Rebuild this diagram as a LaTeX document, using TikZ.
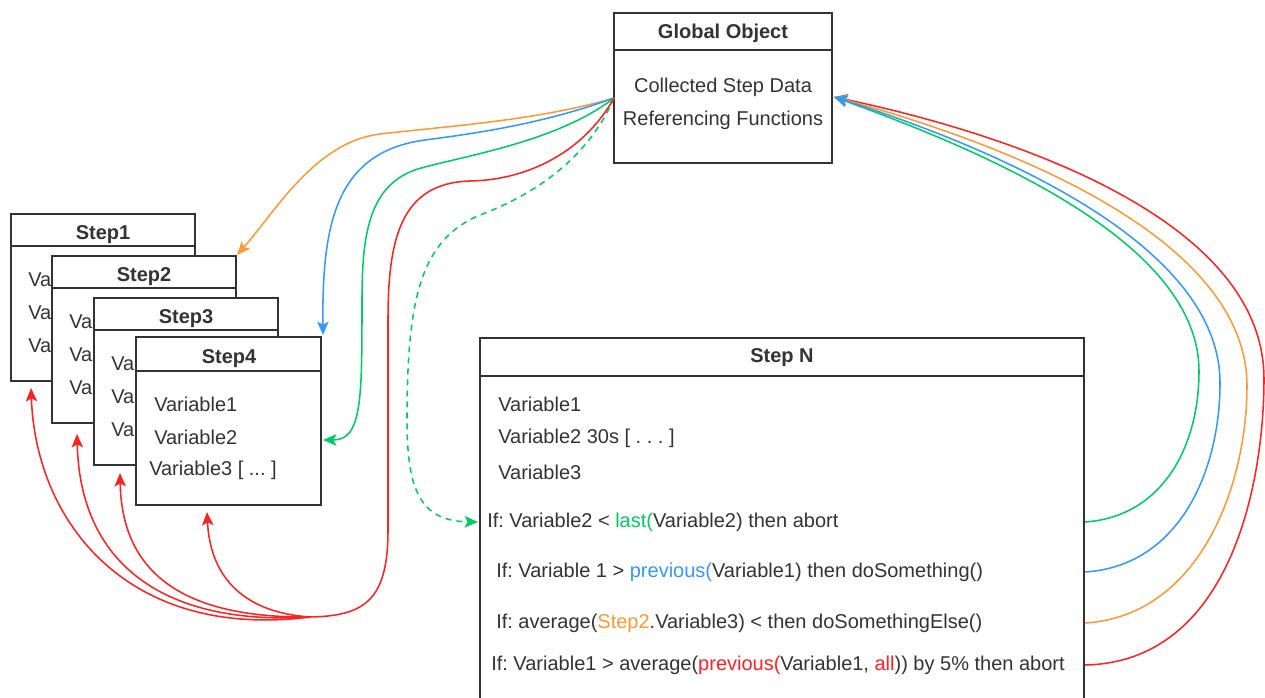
\documentclass[tikz,border=0pt]{standalone}
\usepackage{fontspec}
\setmainfont{Liberation Sans}
\usetikzlibrary{arrows.meta,fit,calc}
\definecolor{ink}{HTML}{333333}
\definecolor{cgreen}{HTML}{00CC66}
\definecolor{cblue}{HTML}{3399FF}
\definecolor{corange}{HTML}{FF9933}
\definecolor{cred}{HTML}{FF2222}
\frenchspacing
\begin{document}
\begin{tikzpicture}[x=0.75pt,y=-0.75pt,
  font=\fontsize{15}{18}\selectfont, text=ink,
  box/.style={draw=ink, line width=1.5pt, fill=white, inner sep=0pt},
  rule/.style={draw=ink, line width=1.5pt},
  head/.style={font=\fontsize{15}{18}\selectfont\bfseries, inner sep=0pt},
  lbl/.style={anchor=west, inner sep=0pt},
  link/.style={line width=1.15pt, -{Stealth[length=10pt,width=8.5pt,inset=2.2pt]}},
  trunk/.style={line width=1.15pt}]
\clip (0,0) rectangle (1265,698);

% ---- global object ----
\node[box, fit={(614,13) (832,163)}] (go) {};
\draw[rule] (go.north west) ++(0,38) -- ++(218,0);
\node[head] (goh) at (723,33) {Global Object};
\node[inner sep=0pt] (go1) at (723,87) {Collected Step Data};
\node[inner sep=0pt] (go2) at (723,120) {Referencing Functions};
\coordinate (gl) at (614,98);
\coordinate (gr) at (834,97);

% ---- stacked step boxes (only the start of each row shows) ----
\foreach \n/\x/\y in {1/11/214, 2/52/256, 3/94/298}{
  \node[box, fit={(\x,\y) (\x+184,\y+167)}] (s\n) {};
  \draw[rule] (s\n.north west) ++(0,33) -- ++(184,0);
  \node[head] at (\x+92,\y+21) {Step\n};
  \node[lbl] at (\x+17,\y+66) {Va};
  \node[lbl] at (\x+17,\y+99) {Va};
  \node[lbl] at (\x+17,\y+132) {Va};
}
\node[box, fit={(136,337) (321,505)}] (s4) {};
\draw[rule] (s4.north west) ++(0,35) -- ++(185,0);
\node[head] (s4h) at (229,359) {Step4};
\node[lbl] (s4a) at (154,404) {Variable1};
\node[lbl] (s4b) at (154,437) {Variable2};
\node[lbl] (s4c) at (149,470) {Variable3 [ ... ]};

% ---- step N ----
\node[box, fit={(480,338) (1084,712)}] (sn) {};
\draw[rule] (sn.north west) ++(0,39) -- ++(604,0);
\node[head] (snh) at (782,358) {Step N};
\node[lbl] (n1) at (498,404) {Variable1};
\node[lbl] (n2) at (498,438) {Variable2 30s [ . . . ]};
\node[lbl] (n3) at (498,472) {Variable3};
\node[lbl] (c1) at (487,522) {If: Variable2 < \textcolor{cgreen}{last(}Variable2) then abort};
\node[lbl] (c2) at (496,572) {If: Variable 1 > \textcolor{cblue}{previous(}Variable1) then doSomething()};
\node[lbl] (c3) at (496,623) {If: average(\textcolor{corange}{Step2}.Variable3) < then doSomethingElse()};
\node[lbl] (c4) at (491,665) {If: Variable1 > average(\textcolor{cred}{previous(}Variable1, \textcolor{cred}{all})) by 5\% then abort};

% ---- links from the global object to the steps ----
\draw[link, corange] (gl) .. controls (540,120) and (450,126) .. (380,134)
  .. controls (315,142) and (275,212) .. (s2.north east);
\draw[link, cblue] (gl) .. controls (540,125) and (470,134) .. (425,140)
  .. controls (335,152) and (322,225) .. ($(s4.north east)+(1,-1)$);
\draw[link, cgreen] (gl) .. controls (560,140) and (470,155) .. (425,167)
  .. controls (370,180) and (362,230) .. (362,300)
  .. controls (362,400) and (362,440) .. ($(s4.east)+(1,19)$);
\draw[link, cgreen, dash pattern=on 4.5pt off 3.75pt] (gl) .. controls (585,165) and (525,198) .. (480,215)
  .. controls (420,240) and (407,300) .. (407,420)
  .. controls (407,490) and (420,521) .. ($(sn.west |- c1)+(-1,0)$);

% red trunk with its four branches
\coordinate (hub) at (310,617);
\draw[trunk, cred] (gl) .. controls (585,150) and (530,180) .. (470,181)
  .. controls (400,183) and (388,240) .. (388,320) -- (388,530)
  .. controls (388,600) and (365,616) .. (hub);
\draw[link, cred] (hub) .. controls (238,612) and (210,572) .. ($(s4.south west)+(72,6)$);
\draw[link, cred] (hub) .. controls (200,618) and (122,585) .. ($(s3.south west)+(27,7)$);
\draw[link, cred] (hub) .. controls (165,626) and (80,565) .. ($(s2.south west)+(26,10)$);
\draw[link, cred] (hub) .. controls (130,640) and (36,525) .. ($(s1.south west)+(21,6)$);

% ---- links from step N back to the global object ----
\draw[link, cred] (sn.east |- c4) .. controls (1232,662) and (1264,480) .. (1264,379)
  .. controls (1264,215) and (1000,132) .. (gr);
\draw[link, corange] (sn.east |- c3) .. controls (1200,616) and (1247,485) .. (1247,386)
  .. controls (1247,235) and (1000,142) .. (gr);
\draw[link, cgreen] (sn.east |- c1) .. controls (1160,517) and (1199,450) .. (1199,371)
  .. controls (1199,245) and (995,155) .. (gr);
\draw[link, cblue] (sn.east |- c2) .. controls (1180,566) and (1220,470) .. (1220,383)
  .. controls (1220,245) and (1000,150) .. (gr);
\end{tikzpicture}
\end{document}
